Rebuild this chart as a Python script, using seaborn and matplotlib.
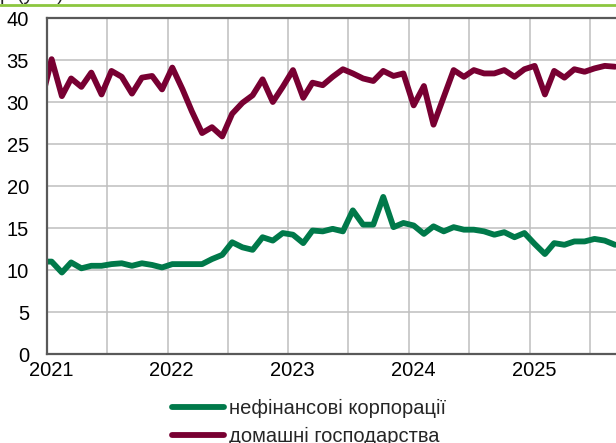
import numpy as np
import pandas as pd
import matplotlib
matplotlib.use("Agg")
import matplotlib.pyplot as plt
import matplotlib.dates as mdates
import matplotlib.transforms as mtransforms
from matplotlib.lines import Line2D
import seaborn as sns

# monthly data, Dec 2020 .. Sep 2025
MONTHS = pd.date_range("2020-12-01", "2025-09-01", freq="MS") + pd.Timedelta(days=14)

CORPS = [11.0,
         11.0, 9.7, 10.9, 10.2, 10.5, 10.5, 10.7, 10.8, 10.5, 10.8, 10.6, 10.3,
         10.7, 10.7, 10.7, 10.7, 11.3, 11.8, 13.3, 12.7, 12.4, 13.9, 13.5, 14.4,
         14.2, 13.2, 14.7, 14.6, 14.9, 14.6, 17.1, 15.4, 15.4, 18.7, 15.1, 15.6,
         15.3, 14.3, 15.2, 14.6, 15.1, 14.8, 14.8, 14.6, 14.2, 14.5, 13.9, 14.4,
         13.1, 11.9, 13.2, 13.0, 13.4, 13.4, 13.7, 13.5, 13.0]

HOUSEHOLDS = [30.1,
              35.1, 30.7, 32.8, 31.8, 33.5, 30.9, 33.7, 33.0, 31.0, 32.9, 33.1, 31.5,
              34.1, 31.5, 28.9, 26.3, 27.0, 25.9, 28.6, 29.9, 30.8, 32.7, 30.0, 31.8,
              33.8, 30.5, 32.3, 32.0, 33.0, 33.9, 33.4, 32.8, 32.5, 33.7, 33.1, 33.4,
              29.6, 31.9, 27.3, 30.6, 33.8, 33.0, 33.8, 33.4, 33.4, 33.8, 33.0, 33.9,
              34.3, 30.9, 33.7, 32.9, 33.9, 33.6, 34.0, 34.3, 34.2]

LABELS = ["нефінансові корпорації", "домашні господарства"]
COLORS = ["#00794A", "#780032"]

df = pd.DataFrame({"date": MONTHS, LABELS[0]: CORPS, LABELS[1]: HOUSEHOLDS})
long = df.melt(id_vars="date", var_name="series", value_name="value")

sns.set_style("white")
plt.rcParams["font.family"] = ["Liberation Sans", "DejaVu Sans"]

fig = plt.figure(figsize=(6.16, 4.43), dpi=100)
ax = fig.add_axes([47 / 616, 1 - 354 / 443, 1 - 47 / 616, (354 - 18) / 443])

sns.lineplot(data=long, x="date", y="value", hue="series", palette=COLORS,
             hue_order=LABELS, linewidth=4.2, legend=False, ax=ax)

ax.set_xlim(pd.Timestamp("2021-01-01"), pd.Timestamp("2025-09-18"))
ax.set_ylim(0, 40)
ax.set_yticks(np.arange(0, 41, 5))
ax.set_xlabel("")
ax.set_ylabel("")

ax.xaxis.set_major_locator(mdates.YearLocator())
ax.xaxis.set_major_formatter(mdates.DateFormatter("%Y"))
ax.xaxis.set_minor_locator(mdates.MonthLocator(bymonth=7))
ax.grid(True, which="both", color="#BFBFBF", linewidth=1.1)
ax.set_axisbelow(True)

for side in ["left", "bottom", "top"]:
    ax.spines[side].set_visible(True)
    ax.spines[side].set_color("#595959")
    ax.spines[side].set_linewidth(1.6)
ax.spines["right"].set_visible(False)

ax.tick_params(axis="y", length=0, pad=13, labelsize=14.5, colors="black")
ax.tick_params(axis="x", which="both", direction="in", length=4, width=1.5,
               color="#595959", pad=5, labelsize=14.5, labelcolor="black")
offset = mtransforms.ScaledTranslation(4 / 100, 0, fig.dpi_scale_trans)
for lbl in ax.get_xticklabels():
    lbl.set_transform(lbl.get_transform() + offset)

# legend below the plot
handles = [Line2D([0], [0], color=c, linewidth=4.2, solid_capstyle="round") for c in COLORS]
fig.legend(handles, LABELS, loc="upper left", bbox_to_anchor=(172 / 616, 1 - 399 / 443),
           frameon=False, fontsize=14.5, handlelength=2.6, handletextpad=0.25,
           labelspacing=0.42, borderpad=0, borderaxespad=0)

# header remnants at the top
fig.add_artist(Line2D([0, 1], [1 - 5 / 443, 1 - 5 / 443], color="#8CC63F",
                      linewidth=2, transform=fig.transFigure))
fig.text(0.0, 1 - 0.5 / 443, "р (у %)", fontsize=14.5, va="baseline", ha="left")

fig.savefig("out.png", dpi=100)
